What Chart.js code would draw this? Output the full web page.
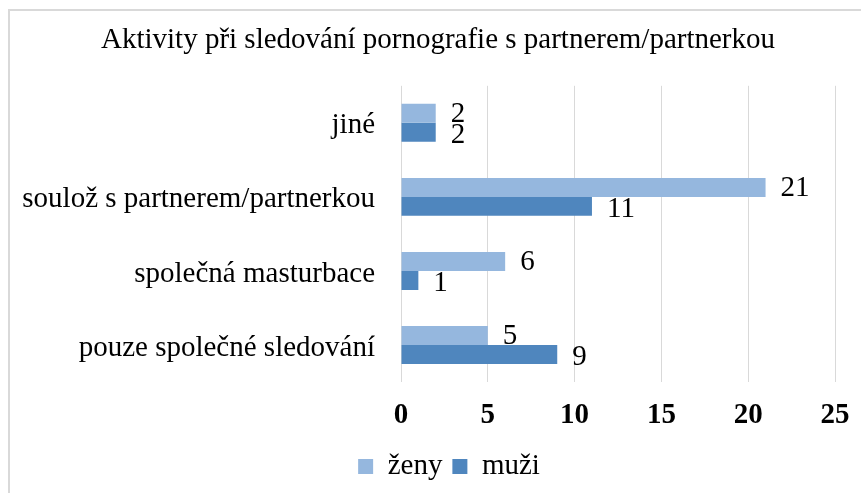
<!DOCTYPE html>
<html>
<head>
<meta charset="utf-8">
<script src="https://cdn.jsdelivr.net/npm/chart.js@4/dist/chart.umd.min.js"></script>
<style>
html,body{margin:0;padding:0;background:#fff;}
#wrap{width:861px;height:493px;position:relative;}
</style>
</head>
<body>
<div id="wrap"><canvas id="c" width="861" height="493"></canvas></div>
<script>
const titleText = 'Aktivity při sledování pornografie s partnerem/partnerkou';
const categories = ['jiné', 'soulož s partnerem/partnerkou', 'společná masturbace', 'pouze společné sledování'];
const zenyValues = [2, 21, 6, 5];
const muziValues = [2, 11, 1, 9];
const seriesNames = ['ženy', 'muži'];
const xTicks = [0, 5, 10, 15, 20, 25];

const SERIF = '"Liberation Serif", "Times New Roman", serif';

const frame = {
  id: 'frame',
  beforeDraw(chart) {
    const ctx = chart.ctx;
    ctx.save();
    ctx.fillStyle = '#ffffff';
    ctx.fillRect(0, 0, chart.width, chart.height);
    ctx.fillStyle = '#d9d9d9';
    ctx.fillRect(8, 9, chart.width - 8, 2);
    ctx.fillRect(8, 9, 2, chart.height - 9);
    ctx.restore();
  }
};

// shift the horizontal centring of title and legend to match the original frame
const centring = {
  id: 'centring',
  afterLayout(chart) {
    if (chart.titleBlock) {
      chart.titleBlock.left = 41;
      chart.titleBlock.width = chart.titleBlock.right - 41;
    }
    if (chart.legend) {
      chart.legend.left = 63;
      chart.legend.width = chart.legend.right - 63;
    }
  }
};

const valueLabels = {
  id: 'valueLabels',
  afterDatasetsDraw(chart) {
    const ctx = chart.ctx;
    ctx.save();
    ctx.font = '29px ' + SERIF;
    ctx.fillStyle = '#000';
    ctx.textAlign = 'left';
    ctx.textBaseline = 'middle';
    chart.data.datasets.forEach((ds, di) => {
      const meta = chart.getDatasetMeta(di);
      meta.data.forEach((bar, i) => {
        const dy = di === 0 ? 1 : 3;
        ctx.fillText(String(ds.data[i]), bar.x + 15, bar.y + dy);
      });
    });
    ctx.restore();
  }
};

new Chart(document.getElementById('c'), {
  type: 'bar',
  data: {
    labels: categories,
    datasets: [
      { label: seriesNames[0], data: zenyValues, backgroundColor: '#95b7de', borderWidth: 0 },
      { label: seriesNames[1], data: muziValues, backgroundColor: '#4f86be', borderWidth: 0 }
    ]
  },
  options: {
    indexAxis: 'y',
    responsive: false,
    animation: false,
    devicePixelRatio: 1,
    categoryPercentage: 0.512,
    barPercentage: 1,
    layout: { padding: { left: 0, right: 26, top: 0, bottom: 2 } },
    plugins: {
      title: {
        display: true,
        text: titleText,
        color: '#000',
        font: { family: SERIF, size: 29, weight: 'normal' },
        padding: { top: 23, bottom: 28 }
      },
      legend: {
        display: true,
        position: 'bottom',
        labels: {
          color: '#000',
          font: { family: SERIF, size: 29 },
          boxWidth: 15,
          boxHeight: 15,
          padding: 10
        }
      },
      tooltip: { enabled: false }
    },
    scales: {
      x: {
        min: 0,
        max: 25,
        afterBuildTicks(scale) { scale.ticks = xTicks.map(v => ({ value: v })); },
        afterFit(scale) { scale.height = 60; scale.paddingRight = 0; scale.paddingLeft = 0; },
        grid: { color: '#d9d9d9', lineWidth: 1, drawTicks: false },
        border: { display: false },
        ticks: {
          color: '#000',
          padding: 16,
          font: { family: SERIF, size: 29, weight: 'bold' }
        }
      },
      y: {
        afterFit(scale) { scale.width = 401; },
        grid: { display: false, drawTicks: false },
        border: { display: false },
        ticks: {
          color: '#000',
          padding: 26,
          labelOffset: 3,
          font: { family: SERIF, size: 29 }
        }
      }
    }
  },
  plugins: [frame, centring, valueLabels]
});
</script>
</body>
</html>
